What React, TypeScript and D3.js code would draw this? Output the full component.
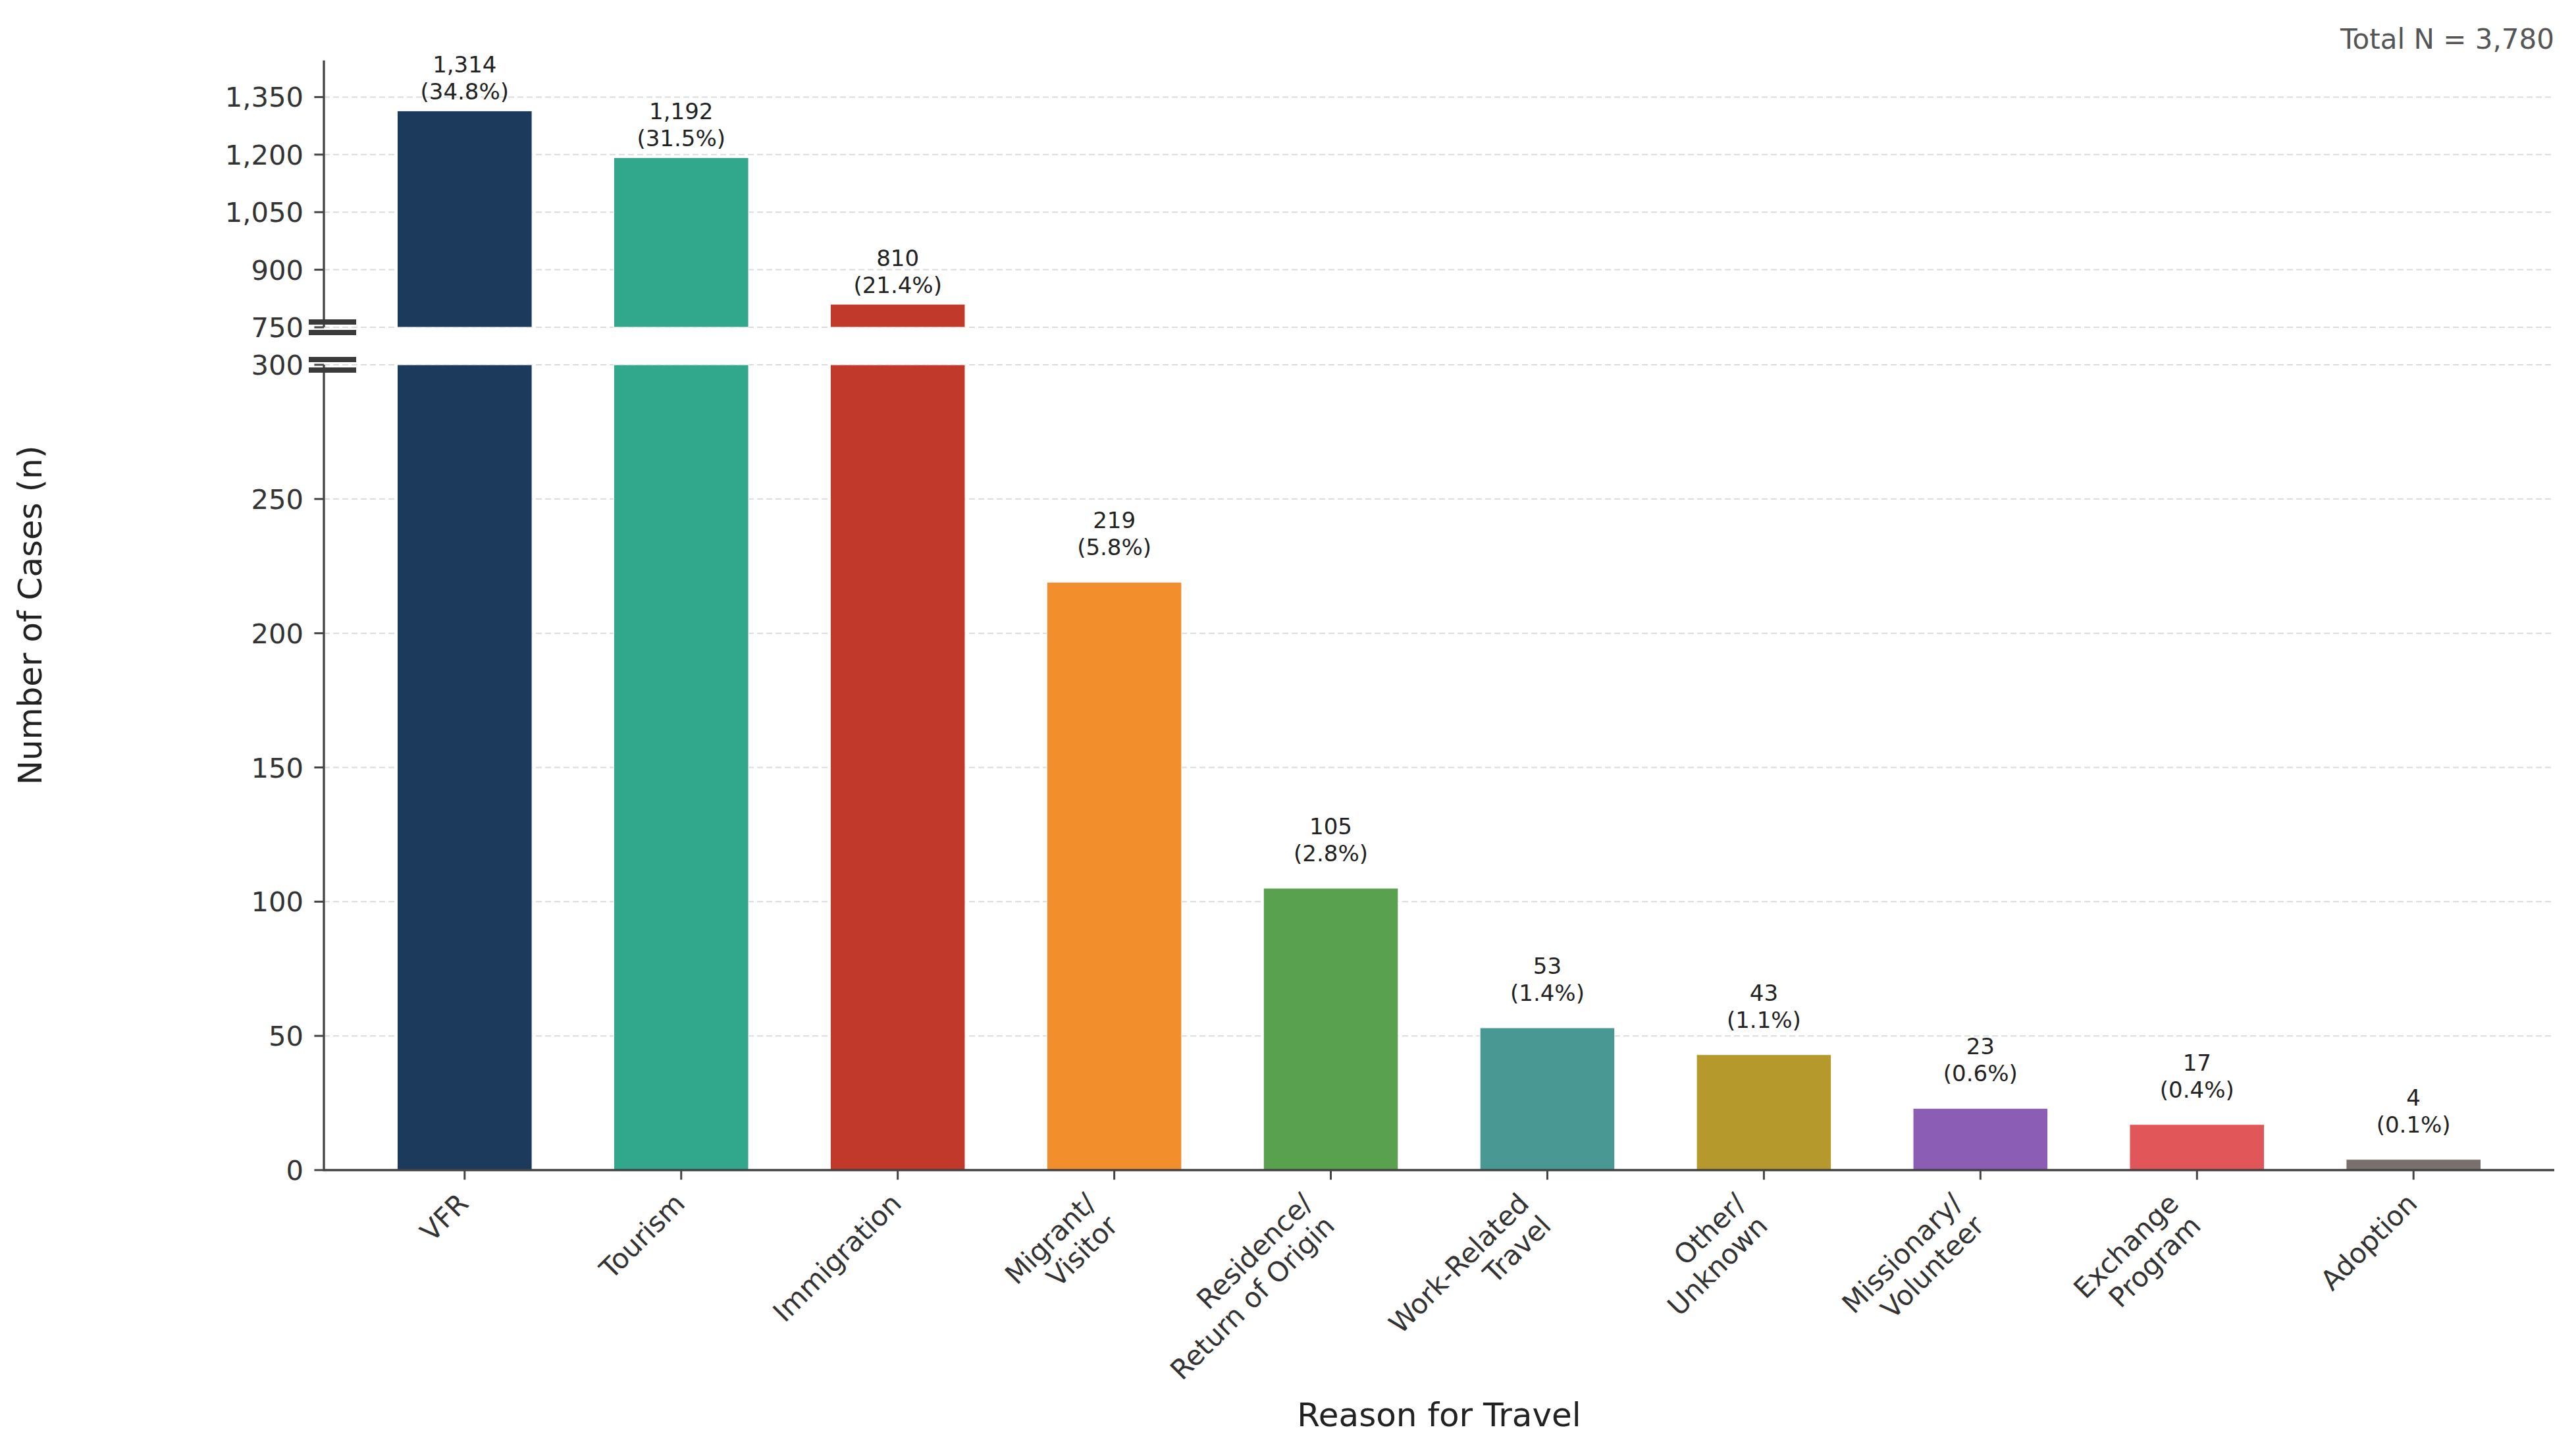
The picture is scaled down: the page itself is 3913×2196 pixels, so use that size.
import { useEffect, useRef } from "react";
import * as d3 from "d3";

const categories = [
  "VFR",
  "Tourism",
  "Immigration",
  "Migrant/\nVisitor",
  "Residence/\nReturn of Origin",
  "Work-Related\nTravel",
  "Other/\nUnknown",
  "Missionary/\nVolunteer",
  "Exchange\nProgram",
  "Adoption",
];
const cases = [1314, 1192, 810, 219, 105, 53, 43, 23, 17, 4];
const barColors = [
  "#1b3a5c",
  "#31a88b",
  "#c0392b",
  "#f28e2b",
  "#59a14f",
  "#499894",
  "#b6992d",
  "#8b5db5",
  "#e15759",
  "#79706e",
];
const lowerTicks = [0, 50, 100, 150, 200, 250, 300];
const upperTicks = [750, 900, 1050, 1200, 1350];
const totalN = 3780;

const W = 3913;
const H = 2196;

const App = () => {
  const ref = useRef<SVGSVGElement>(null);

  useEffect(() => {
    if (!ref.current) return;
    const svg = d3.select(ref.current);
    svg.selectAll("*").remove();

    const left = 492;
    const right = 3880;
    const baseY = 1777;
    const lowerTop = 554;
    const upperBottom = 497;
    const upperMax = 1314 * 1.1;
    const upperTop = upperBottom - (upperMax - 750) * (87.4 / 150);
    const font = "'DejaVu Sans', sans-serif";
    const axisColor = "#444";
    const textColor = "#333";

    const x = d3.scaleBand<number>()
      .domain(d3.range(categories.length))
      .range([left, right])
      .paddingInner(0.378)
      .paddingOuter(0.339);

    const yLow = d3.scaleLinear().domain([0, 300]).range([baseY, lowerTop]);
    const yUp = d3.scaleLinear().domain([750, upperMax]).range([upperBottom, upperTop]);

    const fmt = d3.format(",");

    // gridlines
    const grid = svg.append("g");
    const gridLine = (y: number) =>
      grid.append("line")
        .attr("x1", left).attr("x2", right)
        .attr("y1", y).attr("y2", y)
        .attr("stroke", "#dcdcdc")
        .attr("stroke-width", 2)
        .attr("stroke-dasharray", "9 5");
    lowerTicks.forEach(t => gridLine(yLow(t)));
    upperTicks.forEach(t => gridLine(yUp(t)));

    // bars, lower panel
    svg.append("g")
      .selectAll("rect")
      .data(cases)
      .join("rect")
      .attr("x", (_, i) => x(i)!)
      .attr("width", x.bandwidth())
      .attr("y", d => yLow(Math.min(d, 300)))
      .attr("height", d => baseY - yLow(Math.min(d, 300)))
      .attr("fill", (_, i) => barColors[i])
      .attr("stroke", "#fff")
      .attr("stroke-width", 1);

    // bars, upper panel
    svg.append("g")
      .selectAll("rect")
      .data(cases.map((v, i) => ({ v, i })).filter(d => d.v > 750))
      .join("rect")
      .attr("x", d => x(d.i)!)
      .attr("width", x.bandwidth())
      .attr("y", d => yUp(d.v))
      .attr("height", d => upperBottom - yUp(d.v))
      .attr("fill", d => barColors[d.i])
      .attr("stroke", "#fff")
      .attr("stroke-width", 1);

    // value labels
    const labels = svg.append("g")
      .attr("font-family", font)
      .attr("font-size", 34)
      .attr("fill", "#222")
      .attr("text-anchor", "middle");
    cases.forEach((v, i) => {
      const inUpper = v > 750;
      const top = inUpper ? yUp(v) : yLow(v);
      const gap = inUpper ? 17 : 41;
      const cx = x(i)! + x.bandwidth() / 2;
      const pct = (v / totalN * 100).toFixed(1);
      const t = labels.append("text");
      t.append("tspan").attr("x", cx).attr("y", top - gap - 41).text(fmt(v));
      t.append("tspan").attr("x", cx).attr("y", top - gap).text(`(${pct}%)`);
    });

    // axes
    const axes = svg.append("g").attr("stroke", axisColor).attr("stroke-width", 3.3);
    axes.append("line").attr("x1", left).attr("x2", left).attr("y1", upperTop).attr("y2", upperBottom);
    axes.append("line").attr("x1", left).attr("x2", left).attr("y1", lowerTop).attr("y2", baseY + 1.6);
    axes.append("line").attr("x1", left).attr("x2", right).attr("y1", baseY).attr("y2", baseY);

    const yTickG = svg.append("g").attr("font-family", font).attr("font-size", 41.7).attr("fill", textColor);
    const drawYTick = (val: number, y: number) => {
      yTickG.append("line")
        .attr("x1", left - 14.6).attr("x2", left)
        .attr("y1", y).attr("y2", y)
        .attr("stroke", axisColor).attr("stroke-width", 3);
      yTickG.append("text")
        .attr("x", left - 31)
        .attr("y", y)
        .attr("dy", "0.36em")
        .attr("text-anchor", "end")
        .text(fmt(val));
    };
    lowerTicks.forEach(t => drawYTick(t, yLow(t)));
    upperTicks.forEach(t => drawYTick(t, yUp(t)));

    // break marks
    [upperBottom, lowerTop].forEach(y => {
      [-8, 8].forEach(off => {
        svg.append("line")
          .attr("x1", 469).attr("x2", 541)
          .attr("y1", y + off).attr("y2", y + off)
          .attr("stroke", "#3a3a3a")
          .attr("stroke-width", 8);
      });
    });

    // x ticks and labels
    const xTickG = svg.append("g").attr("font-family", font).attr("font-size", 41.7).attr("fill", textColor);
    categories.forEach((c, i) => {
      const cx = x(i)! + x.bandwidth() / 2;
      xTickG.append("line")
        .attr("x1", cx).attr("x2", cx)
        .attr("y1", baseY).attr("y2", baseY + 14.6)
        .attr("stroke", axisColor).attr("stroke-width", 3);
      const lines = c.split("\n");
      const lineH = 47.5;
      const ax = cx - 0.707 * (lines.length * lineH - 16) + 3;
      const ay = 1803;
      const t = xTickG.append("text")
        .attr("transform", `translate(${ax},${ay}) rotate(-45)`)
        .attr("text-anchor", "end");
      lines.forEach((l, j) => {
        t.append("tspan").attr("x", 0).attr("y", 38.7 + j * lineH).text(l);
      });
    });

    // axis titles
    svg.append("text")
      .attr("transform", `translate(45,${(upperTop + baseY) / 2}) rotate(-90)`)
      .attr("text-anchor", "middle")
      .attr("dy", "0.36em")
      .attr("font-family", font)
      .attr("font-size", 50)
      .attr("fill", "#222")
      .text("Number of Cases (n)");

    svg.append("text")
      .attr("x", (left + right) / 2)
      .attr("y", 2166)
      .attr("text-anchor", "middle")
      .attr("font-family", font)
      .attr("font-size", 50)
      .attr("fill", "#222")
      .text("Reason for Travel");

    svg.append("text")
      .attr("x", right)
      .attr("y", 74)
      .attr("text-anchor", "end")
      .attr("font-family", font)
      .attr("font-size", 42)
      .attr("fill", "#555")
      .text(`Total N = ${fmt(totalN)}`);
  }, []);

  return (
    <svg
      ref={ref}
      width={W}
      height={H}
      style={{ position: "absolute", left: 0, top: 0, background: "#fff" }}
    />
  );
};

export default App;
